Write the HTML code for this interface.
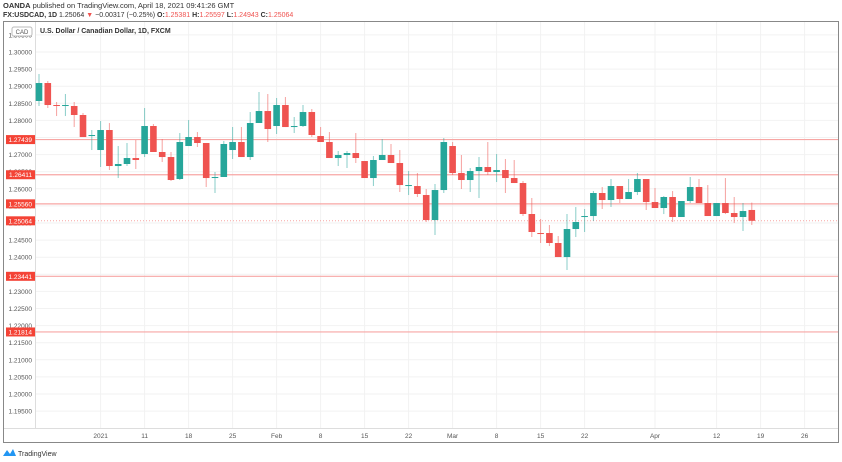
<!DOCTYPE html>
<html><head><meta charset="utf-8">
<style>
html,body{margin:0;padding:0;background:#fff;width:842px;height:462px;overflow:hidden;font-family:"Liberation Sans",sans-serif}
svg{position:absolute;left:0;top:0}
</style></head>
<body>
<svg id="c" width="842" height="462" xmlns="http://www.w3.org/2000/svg"></svg>
<script>
const opens=[1.28567,1.29093,1.28450,1.28421,1.28421,1.28158,1.27543,1.27134,1.27719,1.26666,1.26725,1.26900,1.27017,1.27836,1.27076,1.26929,1.26286,1.27251,1.27514,1.27339,1.26315,1.26345,1.27134,1.27368,1.26929,1.27924,1.28274,1.27836,1.28450,1.27806,1.27836,1.28245,1.27543,1.27368,1.26900,1.26988,1.27046,1.26812,1.26315,1.26842,1.26988,1.26754,1.26081,1.26081,1.25818,1.25087,1.25964,1.27251,1.26461,1.26257,1.26520,1.26637,1.26491,1.26549,1.26315,1.26169,1.25263,1.24707,1.24707,1.24415,1.24005,1.24824,1.25175,1.25204,1.25877,1.25672,1.26081,1.25701,1.25906,1.26286,1.25613,1.25438,1.25760,1.25175,1.25643,1.26052,1.25584,1.25204,1.25584,1.25292,1.25175,1.25381];
const highs=[1.29356,1.29152,1.28538,1.28772,1.28538,1.28216,1.27719,1.27982,1.27923,1.27251,1.27338,1.27426,1.28362,1.27894,1.27456,1.27076,1.27631,1.28011,1.27660,1.27339,1.26491,1.27397,1.27807,1.27807,1.28245,1.28830,1.28772,1.28655,1.28684,1.28099,1.28450,1.28333,1.27807,1.27660,1.27105,1.27105,1.27631,1.26812,1.26959,1.27456,1.27310,1.27134,1.26520,1.26461,1.25994,1.26139,1.27485,1.27368,1.26988,1.26608,1.26929,1.27368,1.27017,1.26871,1.26842,1.26227,1.25731,1.25116,1.24941,1.24619,1.25262,1.25467,1.25409,1.25935,1.26052,1.26286,1.26081,1.26286,1.26462,1.26286,1.26023,1.25789,1.25935,1.25643,1.26345,1.26286,1.26110,1.25584,1.26315,1.25760,1.25584,1.25597];
const lows=[1.28421,1.28362,1.28128,1.28128,1.27806,1.27514,1.27134,1.26637,1.26549,1.26315,1.26666,1.26578,1.26929,1.27076,1.26783,1.26227,1.26257,1.27251,1.27222,1.26052,1.25877,1.26345,1.26871,1.26929,1.26842,1.27924,1.27368,1.27602,1.27806,1.27631,1.27806,1.27514,1.27368,1.26900,1.26666,1.26608,1.26754,1.26315,1.26081,1.26842,1.26754,1.25906,1.25818,1.25760,1.25029,1.24649,1.25877,1.26403,1.25994,1.25906,1.25730,1.26403,1.26198,1.25877,1.26169,1.25204,1.24590,1.24415,1.24327,1.24005,1.23625,1.24590,1.24737,1.25058,1.25409,1.25467,1.25584,1.25701,1.25818,1.25380,1.25438,1.25262,1.25029,1.25175,1.25584,1.25584,1.25204,1.25204,1.25262,1.24999,1.24766,1.24943];
const closes=[1.29093,1.28450,1.28421,1.28450,1.28158,1.27514,1.27573,1.27719,1.26666,1.26725,1.26900,1.26842,1.27836,1.27076,1.26929,1.26257,1.27368,1.27514,1.27339,1.26315,1.26345,1.27310,1.27368,1.26929,1.27924,1.28274,1.27748,1.28450,1.27806,1.27836,1.28245,1.27573,1.27368,1.26900,1.26988,1.27046,1.26900,1.26315,1.26842,1.26988,1.26754,1.26110,1.26110,1.25848,1.25087,1.25964,1.27368,1.26461,1.26257,1.26520,1.26637,1.26491,1.26549,1.26315,1.26169,1.25263,1.24737,1.24693,1.24415,1.24005,1.24824,1.25029,1.25204,1.25877,1.25672,1.26081,1.25701,1.25906,1.26286,1.25613,1.25438,1.25760,1.25175,1.25643,1.26052,1.25584,1.25204,1.25584,1.25292,1.25175,1.25350,1.25064];
const priceTicks=[1.305,1.30,1.295,1.29,1.285,1.28,1.275,1.27,1.265,1.26,1.255,1.25,1.245,1.24,1.235,1.23,1.225,1.22,1.215,1.21,1.205,1.20,1.195];
const levels=[1.27439,1.26411,1.25560,1.23441,1.21814];
const lastPrice=1.25064;
const dateLabels=["2021","11","18","25","Feb","8","15","22","Mar","8","15","22","Apr","12","19","26"];
const dateIdx=[7,12,17,22,27,32,37,42,47,52,57,62,70,77,82,87];

const NS="http://www.w3.org/2000/svg";
const svg=document.getElementById('c');
const y=p=>52+(1.30-p)/0.005*17.1;
const x=i=>39+i*8.8;
function el(t,a,parent){const e=document.createElementNS(NS,t);for(const k in a)e.setAttribute(k,a[k]);(parent||svg).appendChild(e);return e;}
function txt(s,a,parent){const e=el('text',a,parent);e.textContent=s;return e;}

// header
let t=txt('',{x:3,y:8,'font-size':'7.5','fill':'#333'});


t.innerHTML='<tspan font-weight="bold">OANDA</tspan> published on TradingView.com, April 18, 2021 09:41:26 GMT';
t=txt('',{x:3,y:17,'font-size':'7','fill':'#333'});


t.innerHTML='<tspan font-weight="bold">FX:USDCAD, 1D</tspan>  1.25064 <tspan fill="#ef5350">▼</tspan> −0.00317 (−0.25%) <tspan font-weight="bold">O:</tspan><tspan fill="#ef5350">1.25381</tspan> <tspan font-weight="bold">H:</tspan><tspan fill="#ef5350">1.25597</tspan> <tspan font-weight="bold">L:</tspan><tspan fill="#ef5350">1.24943</tspan> <tspan font-weight="bold">C:</tspan><tspan fill="#ef5350">1.25064</tspan>';

// frame
let f=el('rect',{x:3.5,y:21.5,width:835,height:421,fill:'none',stroke:'#888','stroke-width':1});



// grid
priceTicks.forEach(p=>{
  const g=el('line',{x1:35,x2:838,y1:y(p),y2:y(p),stroke:'#f2f2f2','stroke-width':1});
  
  
});
dateIdx.forEach(i=>{
  const g=el('line',{x1:x(i),x2:x(i),y1:22,y2:428,stroke:'#f2f2f2','stroke-width':1});
  
  
});
let ax=el('line',{x1:35.5,x2:35.5,y1:22,y2:428,stroke:'#ddd'});


ax=el('line',{x1:4,x2:838,y1:428.5,y2:428.5,stroke:'#ddd'});



// tick labels
priceTicks.forEach(p=>{
  const e=txt(p.toFixed(5),{x:32,y:y(p)+2.5,'font-size':'6.5','text-anchor':'end',fill:'#555'});
  
  
});
dateLabels.forEach((s,k)=>{
  const e=txt(s,{x:x(dateIdx[k]),y:438,'font-size':'6.5','text-anchor':'middle',fill:'#555'});
  
  
});

// CAD badge
let b=el('rect',{x:12,y:27,width:20,height:9,rx:2,fill:'#fff',stroke:'#bbb'});


b=txt('CAD',{x:22,y:34,'font-size':'6','text-anchor':'middle',fill:'#555'});


let title=txt('U.S. Dollar / Canadian Dollar, 1D, FXCM',{x:40,y:33,'font-size':'7','font-weight':'bold',fill:'#333'});



// levels
levels.forEach(p=>{
  const l=el('line',{x1:35,x2:838,y1:y(p),y2:y(p),stroke:'#f7a6a4','stroke-width':1.2});
  
  
});
let pl=el('line',{x1:35,x2:838,y1:y(lastPrice),y2:y(lastPrice),stroke:'#f7a6a4','stroke-width':1,'stroke-dasharray':'1,2'});



// candles
for(let i=0;i<opens.length;i++){
  const up=closes[i]>=opens[i];
  const col=up?'#26a69a':'#ef5350';
  const g=el('g',{});
  
  
  el('line',{x1:x(i),x2:x(i),y1:y(highs[i]),y2:y(lows[i]),stroke:col,'stroke-opacity':0.55,'stroke-width':1},g);
  const top=y(Math.max(opens[i],closes[i])),bot=y(Math.min(opens[i],closes[i]));
  el('rect',{x:x(i)-3.3,y:top,width:6.6,height:Math.max(1,bot-top),fill:col},g);
}

// level labels
[...levels,lastPrice].forEach(p=>{
  const g=el('g',{});
  
  
  el('rect',{x:6,y:y(p)-4.5,width:29,height:9,fill:'#f44336'},g);
  txt(p.toFixed(5),{x:32,y:y(p)+2.5,'font-size':'6.5','text-anchor':'end',fill:'#fff'},g);
});

// footer
let lg=el('g',{});


el('path',{d:'M3 456 L7 450 L10 454 L13 449 L16 456 Z',fill:'#2196f3'},lg);
txt('TradingView',{x:18,y:456,'font-size':'7',fill:'#333'},lg);
</script>
</body></html>
